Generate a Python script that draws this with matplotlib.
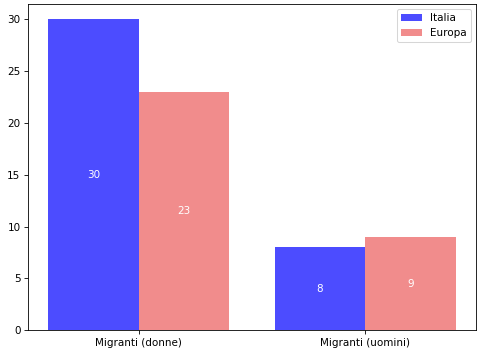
import numpy as np
import matplotlib
matplotlib.use('Agg')
import matplotlib.pyplot as plt

categories = ['Migranti (donne)', 'Migranti (uomini)']
italia = [30, 8]
europa = [23, 9]

x = np.arange(len(categories))
width = 0.4

fig, ax = plt.subplots(figsize=(6.4, 4.72), dpi=75)
b1 = ax.bar(x - width / 2, italia, width, color='blue', alpha=0.7, label='Italia')
b2 = ax.bar(x + width / 2, europa, width, color='lightcoral', alpha=0.9, label='Europa')

# value labels in the middle of each bar
for bars in (b1, b2):
    for rect in bars:
        h = rect.get_height()
        ax.text(rect.get_x() + rect.get_width() / 2, h / 2, str(h),
                ha='center', va='center', color='white')

ax.set_xticks(x)
ax.set_xticklabels(categories)
ax.legend(loc='upper right')
fig.subplots_adjust(left=0.058, right=0.992, top=0.99, bottom=0.067)
fig.savefig('out.png')
